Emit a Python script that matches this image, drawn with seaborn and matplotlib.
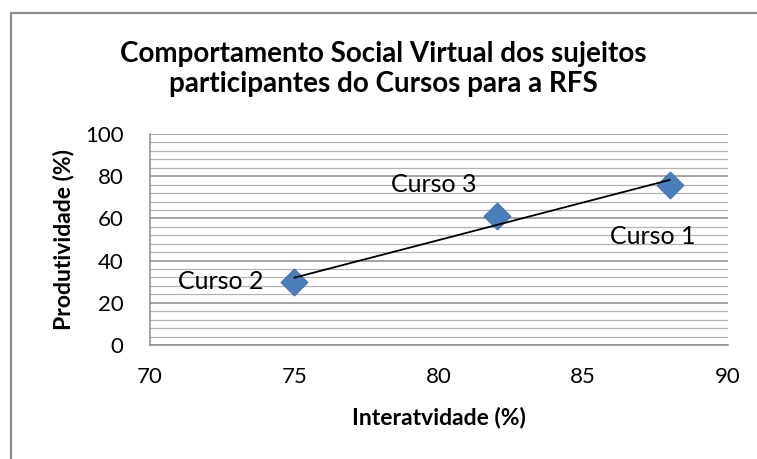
import numpy as np
import pandas as pd
import matplotlib
matplotlib.use("Agg")
import matplotlib.pyplot as plt
import matplotlib.transforms as mtransforms
from matplotlib.lines import Line2D
from matplotlib.ticker import MultipleLocator
import seaborn as sns

# Data
cursos = ["Curso 1", "Curso 3", "Curso 2"]
interatividade = [88, 82, 75]
produtividade = [76, 61, 30]
# label offsets (points) relative to each marker
label_offsets = [(-12, -37), (-45, 23), (-53, 0)]

df = pd.DataFrame({"Interatividade": interatividade,
                   "Produtividade": produtividade,
                   "Curso": cursos})

sns.set_style("white")
plt.rcParams["font.family"] = ["Lato", "DejaVu Sans"]
plt.rcParams["text.color"] = "black"
plt.rcParams["axes.labelcolor"] = "black"
plt.rcParams["xtick.labelcolor"] = "black"
plt.rcParams["ytick.labelcolor"] = "black"

W, H = 757, 459
fig = plt.figure(figsize=(W / 100, H / 100), dpi=100)
ax = fig.add_axes([150 / W, 1 - 345 / H, (727.5 - 150) / W, (345 - 134) / H])

# outer chart border (only top/left visible in the crop)
fig.add_artist(Line2D([11 / W, 11 / W, 1.0], [0, 1 - 13 / H, 1 - 13 / H],
                      transform=fig.transFigure, color="#8c8c8c", lw=1.6))

ax.set_xlim(70, 90)
ax.set_ylim(0, 100)
ax.xaxis.set_major_locator(MultipleLocator(5))
ax.yaxis.set_major_locator(MultipleLocator(20))
ax.yaxis.set_minor_locator(MultipleLocator(4))
ax.grid(False)
ax.yaxis.grid(True, which="major", color="#8c8c8c", lw=1.1)
ax.yaxis.grid(True, which="minor", color="#b3b3b3", lw=0.9)
ax.set_axisbelow(True)

for s in ["top", "right"]:
    ax.spines[s].set_visible(False)
for s in ["left", "bottom"]:
    ax.spines[s].set_color("#8c8c8c")
    ax.spines[s].set_linewidth(1.1)

ax.tick_params(axis="both", which="major", direction="out", length=6,
               width=1.1, color="#8c8c8c", labelsize=16, labelcolor="black")
ax.tick_params(axis="y", which="major", pad=13)
ax.tick_params(axis="x", which="major", pad=10)
ax.tick_params(axis="y", which="minor", length=0)

# shadow then markers
sns.scatterplot(data=df, x="Interatividade", y="Produtividade", ax=ax,
                marker="D", s=190, color="#7f7f7f", alpha=0.35, linewidth=0,
                zorder=3, legend=False)
ax.collections[-1].set_transform(
    ax.transData + mtransforms.ScaledTranslation(2 / 72, -2 / 72, fig.dpi_scale_trans))
sns.scatterplot(data=df, x="Interatividade", y="Produtividade", ax=ax,
                marker="D", s=190, color="#4a7ebb", edgecolor="#3d6ca3",
                linewidth=0.6, zorder=4, legend=False)

sns.regplot(data=df, x="Interatividade", y="Produtividade", ax=ax,
            scatter=False, ci=None, truncate=True,
            line_kws={"color": "black", "lw": 1.3, "zorder": 5})

for name, xv, yv, off in zip(cursos, interatividade, produtividade, label_offsets):
    ax.annotate(name, (xv, yv), xytext=off, textcoords="offset points",
                ha="center", va="center", fontsize=18, color="black", zorder=6)

ax.set_xlabel("Interatvidade (%)", fontsize=16.5, fontweight="bold", labelpad=14)
ax.set_ylabel("Produtividade (%)", fontsize=16.5, fontweight="bold", labelpad=8)
fig.text(383 / W, 1 - 69 / H,
         "Comportamento Social Virtual dos sujeitos\nparticipantes do Cursos para a RFS",
         ha="center", va="center", fontsize=20, fontweight="bold", linespacing=1.2)

fig.savefig("out.png", dpi=100)
